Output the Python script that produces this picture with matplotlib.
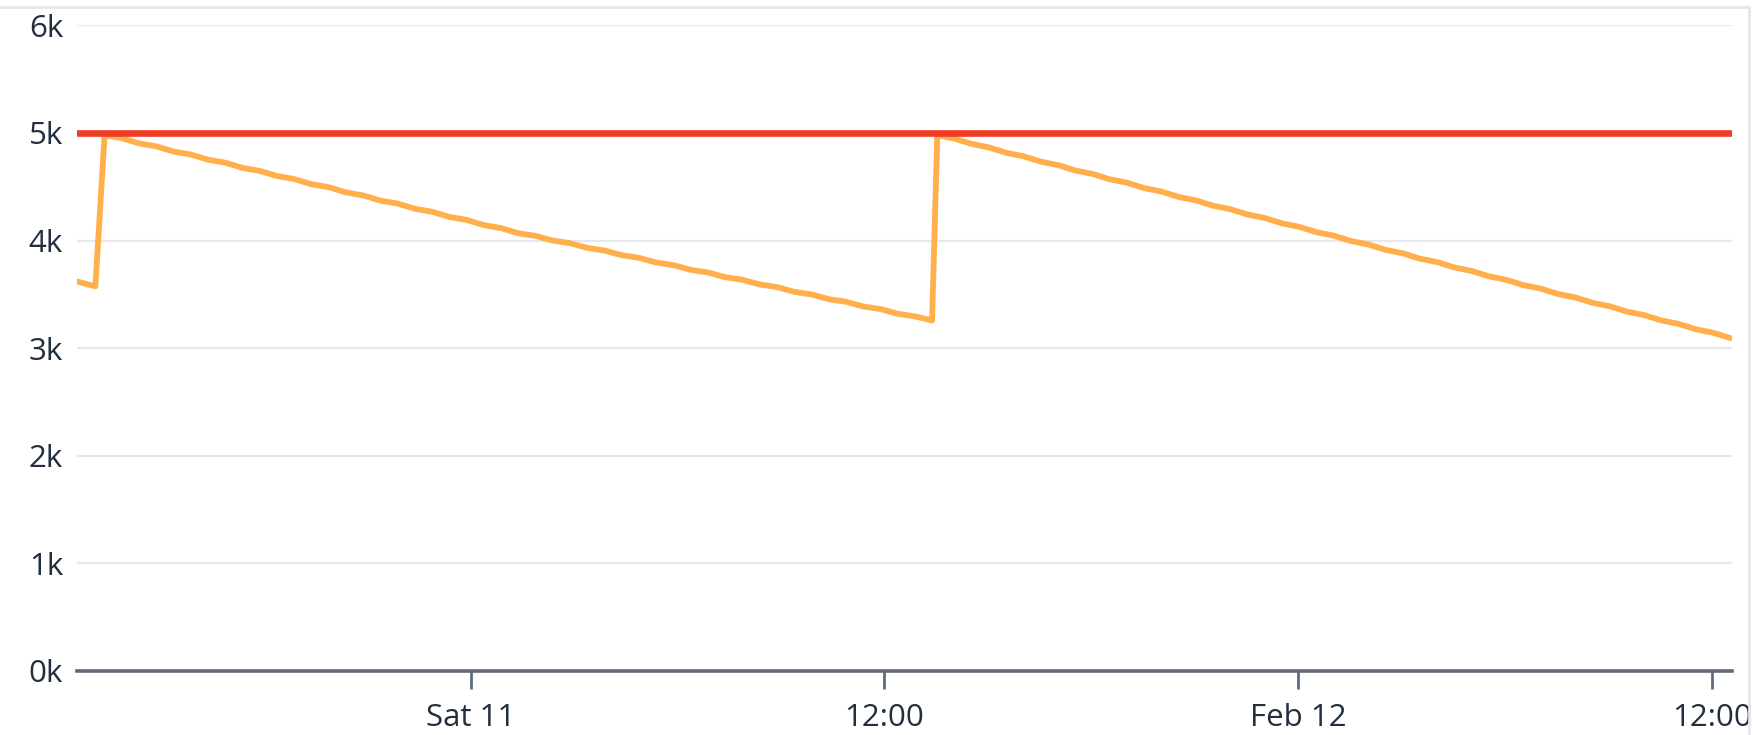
import matplotlib
matplotlib.use("Agg")
import matplotlib.pyplot as plt
from matplotlib.lines import Line2D
import pandas as pd

# ---------------- data ----------------
# orange series: short piece before first refill
pre_times = ["2023-02-10 12:35", "2023-02-10 13:07"]
pre_values = [3620, 3575]

# first decline (every 30 min from refill)
seg1_start = "2023-02-10 13:23"
seg1_values = [4980, 4952, 4904, 4876, 4828, 4800, 4752, 4724, 4676, 4648,
               4600, 4572, 4524, 4496, 4448, 4420, 4372, 4344, 4296, 4268,
               4220, 4192, 4144, 4116, 4068, 4044, 4000, 3976, 3932, 3908,
               3864, 3840, 3796, 3772, 3728, 3704, 3660, 3636, 3592, 3568,
               3524, 3500, 3456, 3432, 3388, 3364, 3320, 3296, 3258]

# second decline (every 30 min from refill)
seg2_start = "2023-02-11 13:32"
seg2_values = [4980, 4948, 4898, 4866, 4816, 4784, 4734, 4702, 4652, 4620,
               4570, 4538, 4488, 4456, 4406, 4374, 4324, 4292, 4242, 4210,
               4160, 4128, 4078, 4046, 3996, 3964, 3914, 3882, 3832, 3800,
               3750, 3718, 3668, 3636, 3586, 3554, 3504, 3472, 3422, 3390,
               3340, 3308, 3258, 3226, 3176, 3144, 3094]

# red threshold series
limit_times = ["2023-02-10 12:35", "2023-02-11 07:16", "2023-02-12 05:18", "2023-02-12 12:33"]
limit_values = [5000, 5000, 5000, 5000]

x_range = ["2023-02-10 12:35", "2023-02-12 12:35"]
x_ticks = ["2023-02-11 00:00", "2023-02-11 12:00", "2023-02-12 00:00", "2023-02-12 12:00"]
x_labels = ["Sat 11", "12:00", "Feb 12", "12:00"]
y_ticks = [0, 1000, 2000, 3000, 4000, 5000, 6000]
y_labels = ["0k", "1k", "2k", "3k", "4k", "5k", "6k"]

# ---------------- build ----------------
t_pre = pd.to_datetime(pre_times)
t_seg1 = pd.date_range(seg1_start, periods=len(seg1_values), freq="30min")
t_seg2 = pd.date_range(seg2_start, periods=len(seg2_values), freq="30min")
orange_t = list(t_pre) + list(t_seg1) + list(t_seg2)
orange_v = pre_values + seg1_values + seg2_values

plt.rcParams['font.family'] = ['Open Sans', 'DejaVu Sans']

W, H = 1753, 735
fig = plt.figure(figsize=(W / 100, H / 100), dpi=100)
ax = fig.add_axes([77 / W, 1 - 671 / H, (1732 - 77) / W, (671 - 25.4) / H])

ax.plot(orange_t, orange_v, color="#FFB04C", lw=4.2, solid_capstyle="round",
        solid_joinstyle="round", zorder=3)
ax.plot(pd.to_datetime(limit_times), limit_values, color="#F03D25", lw=4.8,
        solid_capstyle="round", zorder=4)

ax.set_xlim(pd.to_datetime(x_range[0]), pd.to_datetime(x_range[1]))
ax.set_ylim(0, 6000)

ax.set_yticks(y_ticks)
ax.set_yticklabels(y_labels)
ax.set_xticks(pd.to_datetime(x_ticks))
ax.set_xticklabels(x_labels)

label_color = "#232F3E"
ax.tick_params(axis="y", length=0, pad=10, labelsize=22.5, labelcolor=label_color)
ax.tick_params(axis="x", length=13, width=2, color="#5F6B7A", pad=10,
               labelsize=22.5, labelcolor=label_color)

ax.grid(axis="y", color="#E6E8EB", lw=1.6, zorder=0)
ax.set_axisbelow(True)
for s in ["top", "right", "left"]:
    ax.spines[s].set_visible(False)
ax.spines["bottom"].set_color("#5F6B7A")
ax.spines["bottom"].set_linewidth(2.6)
ax.spines["bottom"].set_zorder(5)

# panel border (top and right)
fig.add_artist(Line2D([0, 1748 / W], [1 - 7 / H, 1 - 7 / H], transform=fig.transFigure,
                      color="#E2E6EE", lw=2))
fig.add_artist(Line2D([1749 / W, 1749 / W], [0, 1 - 7 / H], transform=fig.transFigure,
                      color="#E2E6EE", lw=2))

fig.savefig("out.png", dpi=100, facecolor="white")
